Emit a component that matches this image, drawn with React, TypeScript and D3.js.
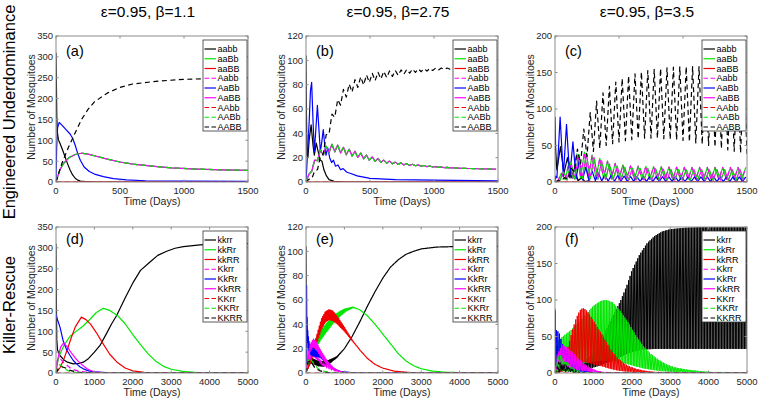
import React from "react";
import * as d3 from "d3";

type Pt = [number, number];

// ---------- text / ticks ----------
const colTitles = ["ε=0.95, β=1.1", "ε=0.95, β=2.75", "ε=0.95, β=3.5"];
const rowTitles = ["Engineered Underdominance", "Killer-Rescue"];
const panelLabels = ["(a)", "(b)", "(c)", "(d)", "(e)", "(f)"];
const yTitle = "Number of Mosquitoes";
const xTitle = "Time (Days)";
const topNames = ["aabb", "aaBb", "aaBB", "Aabb", "AaBb", "AaBB", "AAbb", "AABb", "AABB"];
const botNames = ["kkrr", "kkRr", "kkRR", "Kkrr", "KkRr", "KkRR", "KKrr", "KKRr", "KKRR"];
const yTicks350 = [0, 50, 100, 150, 200, 250, 300, 350];
const yTicks120 = [0, 20, 40, 60, 80, 100, 120];
const yTicks200 = [0, 50, 100, 150, 200];
const xTicks1500 = [0, 500, 1000, 1500];
const xTicks5000 = [0, 1000, 2000, 3000, 4000, 5000];

// ---------- panel (a) ----------
const a_aabb: Pt[] = [[0,310],[3,240],[6,160],[10,120],[20,100],[31,93],[50,78],[70,61],[90,44],[110,29],[130,17],[150,9],[170,4.5],[190,2],[230,0.7],[300,0],[1500,0]];
const a_mid: Pt[] = [[0,0],[10,10],[30,29],[60,45],[100,58],[150,66],[200,69],[250,67],[300,63],[400,55],[500,48],[600,43],[750,38],[900,34],[1100,31],[1300,29],[1500,28]];
const a_AaBb: Pt[] = [[0,0],[5,80],[12,130],[25,143],[50,135],[80,125],[110,115],[130,105],[150,88],[170,68],[190,52],[220,36],[260,25],[300,19],[370,13],[450,8],[550,5],[700,3],[1000,2],[1500,1.5]];
const a_AABB: Pt[] = [[0,0],[25,25],[50,48],[100,85],[150,118],[200,150],[250,174],[300,192],[400,213],[500,227],[600,235],[800,242],[1000,246],[1200,248],[1500,250]];
const zero1500: Pt[] = [[0,0],[1500,0]];
const zero5000: Pt[] = [[0,0],[5000,0]];

// ---------- panel (b) ----------
const b_aabb: Pt[] = [[0,104],[3,60],[8,22],[15,20],[25,35],[40,47],[55,30],[65,22],[80,32],[95,25],[110,18],[125,17],[140,10],[160,5],[180,2],[220,0.5],[300,0],[1500,0]];
const b_AaBb: Pt[] = [[0,0],[10,20],[25,50],[35,75],[44,82],[55,50],[65,25],[75,40],[89,63],[100,45],[112,25],[122,32],[135,43],[145,32],[156,22],[170,28],[185,20],[200,16],[215,18],[230,13],[250,14],[270,10],[290,11],[320,8],[350,7],[400,5],[500,3],[700,2],[1000,1.5],[1500,1]];
const b_mid: Pt[] = [[0,0],[50,12],[100,22.5],[150,26],[200,28],[250,27.5],[300,25.5],[400,22.5],[500,19.5],[600,17],[700,15.5],[800,14.3],[1000,12.5],[1200,11.3],[1500,10.5]];
const b_midAmp: Pt[] = [[0,0],[50,2],[100,3],[200,3],[300,2.7],[400,2.2],[500,1.7],[600,1.2],[700,0.8],[900,0.4],[1100,0.15],[1300,0],[1500,0]];
const b_AABB: Pt[] = [[0,0],[50,4],[100,14],[150,32],[200,51],[250,64],[300,73],[400,81.5],[500,85.5],[600,88],[800,91],[1000,92.7],[1200,93.5],[1500,94]];
const b_AABBAmp: Pt[] = [[0,0],[100,2],[150,4],[300,4.5],[500,3.5],[700,2.2],[900,1.2],[1100,0.6],[1300,0.3],[1500,0.2]];

// ---------- panel (c) ----------
const c_aabbPre: Pt[] = [[0,89],[5,45],[12,22]];
const c_aabbHi: Pt[] = [[0,20],[45,50],[95,34],[145,20],[195,7],[245,2],[300,0.5],[400,0],[1500,0]];
const c_aabbLo: Pt[] = [[0,18],[70,12],[120,6],[170,2],[220,0.5],[300,0],[1500,0]];
const c_blueHi: Pt[] = [[0,10],[40,89],[90,79],[140,55],[190,32],[240,20],[300,14],[400,10],[600,7.5],[1000,7],[1500,7]];
const c_blueLo: Pt[] = [[0,5],[65,8],[115,6],[200,3],[400,1],[1500,0.5]];
const c_bluePre: Pt[] = [[0,0],[5,8]];
const c_gHi: Pt[] = [[0,0],[50,12],[100,25],[150,36],[200,42],[250,40],[300,36],[400,29],[500,24],[600,22],[800,21],[1000,20],[1500,20]];
const c_gLo: Pt[] = [[0,0],[100,4],[200,6],[300,5],[500,4],[800,3.5],[1500,3.5]];
const c_mHi: Pt[] = [[0,0],[50,10],[100,22],[150,33],[200,40],[250,39],[300,34],[400,26],[500,21],[600,19],[800,18],[1000,17],[1500,17]];
const c_mLo: Pt[] = [[0,0],[100,3],[200,5],[300,4],[500,3],[800,2.5],[1500,2.5]];
const c_AABBHi: Pt[] = [[0,0],[100,8],[150,30],[200,60],[250,85],[300,105],[400,128],[500,140],[600,147],[700,152],[800,155],[900,157],[1000,158],[1200,158],[1400,158],[1500,152]];
const c_AABBLo: Pt[] = [[0,0],[100,4],[150,14],[200,25],[250,35],[300,42],[400,50],[500,55],[600,58],[700,60],[800,60],[1000,57],[1200,50],[1400,42],[1500,38]];

// ---------- panel (d) ----------
const d_kkrr: Pt[] = [[0,310],[8,180],[20,80],[40,55],[100,42],[200,32],[300,26],[450,22],[600,23],[712,26],[850,35],[1000,50],[1146,66],[1300,92],[1450,118],[1580,138],[1800,180],[2014,218],[2200,246],[2448,266],[2650,282],[2882,292],[3100,299],[3316,303],[3750,307],[4200,309],[5000,310]];
const d_kkRr: Pt[] = [[0,0],[30,22],[100,45],[200,65],[365,88],[500,98],[700,112],[900,130],[1050,145],[1233,155],[1400,150],[1600,138],[1800,118],[2000,92],[2200,68],[2400,46],[2600,28],[2800,16],[3000,9],[3300,4],[3700,1],[4200,0.3],[5000,0]];
const d_kkRR: Pt[] = [[0,0],[100,12],[200,32],[300,58],[400,85],[500,110],[660,134],[780,128],[900,117],[1050,97],[1200,74],[1400,45],[1600,25],[1800,12],[2000,5],[2300,1.5],[2700,0.3],[3000,0],[5000,0]];
const d_Kkrr: Pt[] = [[0,0],[30,30],[100,35],[200,25],[400,10],[600,4],[900,1],[1500,0],[5000,0]];
const d_KkRr: Pt[] = [[0,142],[30,130],[104,110],[190,76],[280,55],[365,42],[450,30],[538,22],[620,15],[712,10],[850,5],[1000,2.5],[1300,0.8],[2000,0],[5000,0]];
const d_KkRR: Pt[] = [[0,0],[50,35],[120,62],[200,72],[300,62],[400,48],[500,36],[600,26],[700,18],[800,11],[900,6],[1000,3],[1200,1],[1600,0],[5000,0]];
const d_KKRr: Pt[] = [[0,0],[40,15],[100,20],[200,12],[300,6],[400,2.5],[600,0.5],[800,0],[5000,0]];
const d_KKRR: Pt[] = [[0,0],[60,10],[150,15],[250,12],[350,7],[500,3],[700,1],[1000,0],[5000,0]];

// ---------- panel (e) ----------
const e_kkrrPre: Pt[] = [[0,104],[10,40],[25,12]];
const e_kkrr: Pt[] = [[0,10],[60,9],[150,10],[300,8],[450,7.5],[600,9],[800,13],[1000,20],[1200,30],[1400,42],[1600,55],[1800,67],[2000,78],[2200,87],[2400,93],[2600,97.5],[2800,100],[3000,102],[3400,103.5],[4000,104],[5000,104]];
const e_kkrrAmp: Pt[] = [[0,2],[500,2],[800,0.5],[1000,0],[5000,0]];
const e_kkRr: Pt[] = [[0,0],[100,15],[200,22],[365,30],[500,36],[712,44],[900,49],[1050,52],[1230,54],[1400,52],[1600,47],[1800,40],[2000,32],[2200,24],[2400,16],[2600,10],[2800,6],[3000,3.5],[3300,1.5],[3700,0.5],[5000,0]];
const e_kkRrAmp: Pt[] = [[0,0],[100,3],[300,4],[600,3.5],[900,2],[1100,0.8],[1300,0],[5000,0]];
const e_kkRR: Pt[] = [[0,0],[100,8],[200,18],[300,30],[400,40],[500,46],[600,48],[700,47],[800,44],[1000,36],[1200,27],[1400,19],[1600,12],[1800,7],[2000,4],[2300,1.5],[2700,0.4],[3000,0],[5000,0]];
const e_kkRRAmp: Pt[] = [[0,0],[200,3],[400,4.5],[700,4],[900,2.5],[1100,1],[1300,0],[5000,0]];
const e_Kkrr: Pt[] = [[0,0],[50,10],[150,15],[300,11],[500,6],[700,2.5],[900,1],[1200,0],[5000,0]];
const e_KkrrAmp: Pt[] = [[0,0],[100,2],[400,1.5],[700,0.5],[900,0],[5000,0]];
const e_KkRrPre: Pt[] = [[0,0],[8,40],[15,72],[22,30],[30,46],[38,25],[46,35],[55,20],[63,30],[72,18],[80,26],[90,17]];
const e_KkRr: Pt[] = [[0,20],[100,20],[150,18],[200,17],[365,14.5],[538,9],[712,3.6],[900,1.2],[1200,0.3],[1500,0],[5000,0]];
const e_KkRrAmp: Pt[] = [[0,5],[200,3],[400,1.5],[600,0.5],[800,0],[5000,0]];
const e_KkRR: Pt[] = [[0,0],[50,12],[100,20],[190,25],[280,22],[365,17],[450,13],[538,9],[620,6],[712,3.6],[850,1.5],[1000,0.5],[1300,0],[5000,0]];
const e_KkRRAmp: Pt[] = [[0,0],[100,3],[300,3],[500,2],[700,1],[900,0],[5000,0]];
const e_KKRr: Pt[] = [[0,0],[40,8],[100,12],[200,8],[300,4],[400,2],[600,0.5],[800,0],[5000,0]];
const e_KKRR: Pt[] = [[0,0],[50,9],[120,10],[234,4],[350,2],[500,0.5],[700,0],[5000,0]];

// ---------- panel (f) ----------
const f_kkrrPre: Pt[] = [[0,88],[8,50]];
const f_kkrrHi: Pt[] = [[0,45],[100,22],[300,15],[500,12],[700,15],[900,22],[1100,35],[1300,55],[1500,78],[1700,98],[1870,120],[2000,140],[2200,162],[2400,178],[2600,188],[2800,194],[3000,197],[3400,199],[3800,200],[5000,200]];
const f_kkrrLo: Pt[] = [[0,10],[100,5],[300,3],[500,3],[700,4],[900,6],[1100,9],[1300,13],[1500,17],[1700,22],[1900,27],[2100,30],[2300,32],[2600,33],[5000,33]];
const f_kkRrHi: Pt[] = [[0,0],[50,35],[100,45],[200,50],[400,58],[600,68],[800,80],[1000,92],[1200,99],[1330,100],[1500,97],[1700,85],[1900,70],[2100,52],[2300,37],[2500,26],[2700,18],[2900,12],[3100,8],[3400,5],[3800,2.5],[4200,1],[5000,0.3]];
const f_kkRrLo: Pt[] = [[0,0],[100,5],[200,7.5],[400,10],[600,12],[800,14],[1000,16],[1200,17],[1330,17],[1500,16.5],[1700,14.5],[1900,12],[2100,9],[2300,6.3],[2500,4.4],[2700,3],[2900,2],[3100,1.4],[3400,0.9],[3800,0.4],[4200,0.2],[5000,0]];
const f_kkRRHi: Pt[] = [[0,0],[150,5],[250,18],[350,38],[450,58],[550,75],[650,86],[720,89],[800,87],[900,80],[1000,72],[1100,63],[1233,52],[1350,41],[1493,29],[1600,22],[1753,15],[1900,10],[2100,6],[2300,3.5],[2600,1.5],[3000,0.5],[3500,0],[5000,0]];
const f_kkRRLo: Pt[] = [[0,0],[150,1],[250,3],[350,6.5],[450,10],[550,12.5],[650,14.5],[720,15],[800,14.5],[900,13.5],[1000,12],[1100,10.5],[1233,9],[1350,7],[1493,5],[1600,3.7],[1753,2.5],[1900,1.7],[2100,1],[2300,0.6],[2600,0.3],[3000,0.1],[3500,0],[5000,0]];
const f_KkrrHi: Pt[] = [[0,0],[60,20],[190,30],[400,22],[600,14],[800,8],[1000,4],[1300,1],[1600,0],[5000,0]];
const f_KkrrLo: Pt[] = [[0,0],[60,4],[190,6],[400,4.5],[600,3],[800,1.6],[1000,0.8],[1300,0.2],[1600,0],[5000,0]];
const f_KkRrPre: Pt[] = [[0,0],[5,85],[12,60]];
const f_KkRrHi: Pt[] = [[0,60],[104,56],[190,40],[365,25],[538,15],[712,8],[850,4],[972,2],[1200,0.5],[1500,0],[5000,0]];
const f_KkRrLo: Pt[] = [[0,10],[200,6],[400,4],[600,2],[800,1],[1000,0.3],[1200,0],[5000,0]];
const f_KkRRHi: Pt[] = [[0,0],[60,25],[190,40],[300,35],[451,29],[600,20],[712,15],[850,9],[972,6],[1100,3],[1300,1],[1600,0],[5000,0]];
const f_KkRRLo: Pt[] = [[0,0],[100,6],[200,8],[400,6],[600,4],[800,2.5],[1000,1],[1300,0.3],[1600,0],[5000,0]];
const f_KKRrHi: Pt[] = [[0,0],[50,20],[150,25],[300,15],[500,6],[700,2],[1000,0],[5000,0]];
const f_KKRrLo: Pt[] = [[0,0],[150,3],[300,2],[500,1],[700,0],[5000,0]];
const f_KKRRHi: Pt[] = [[0,0],[100,15],[250,12],[400,6],[600,2],[900,0],[5000,0]];
const f_KKRRLo: Pt[] = [[0,0],[250,2],[400,1],[600,0],[5000,0]];

// ---------- series specs ----------
type Spec = { pts?: Pt[]; pre?: Pt[]; hi?: Pt[]; lo?: Pt[]; base?: Pt[]; amp?: Pt[]; period?: number; start?: number };

const bMid: Spec = { base: b_mid, amp: b_midAmp, period: 45 };
const cG: Spec = { hi: c_gHi, lo: c_gLo, period: 60, start: 20 };
const cM: Spec = { hi: c_mHi, lo: c_mLo, period: 60, start: 35 };
const F_PERIOD = 40;

const panelSeries: Spec[][] = [
  [{ pts: a_aabb }, { pts: a_mid }, { pts: zero1500 }, { pts: a_mid }, { pts: a_AaBb }, { pts: a_mid }, { pts: zero1500 }, { pts: a_mid }, { pts: a_AABB }],
  [{ pts: b_aabb }, bMid, { pts: zero1500 }, bMid, { pts: b_AaBb }, bMid, { pts: zero1500 }, bMid, { base: b_AABB, amp: b_AABBAmp, period: 45 }],
  [
    { pre: c_aabbPre, hi: c_aabbHi, lo: c_aabbLo, period: 55, start: 15 },
    cG, { pts: zero1500 }, cG,
    { pre: c_bluePre, hi: c_blueHi, lo: c_blueLo, period: 50, start: 15 },
    cM, { pts: zero1500 }, cM,
    { hi: c_AABBHi, lo: c_AABBLo, period: 50, start: 0 },
  ],
  [{ pts: d_kkrr }, { pts: d_kkRr }, { pts: d_kkRR }, { pts: d_Kkrr }, { pts: d_KkRr }, { pts: d_KkRR }, { pts: zero5000 }, { pts: d_KKRr }, { pts: d_KKRR }],
  [
    { pre: e_kkrrPre, base: e_kkrr, amp: e_kkrrAmp, period: 30, start: 30 },
    { base: e_kkRr, amp: e_kkRrAmp, period: 30 },
    { base: e_kkRR, amp: e_kkRRAmp, period: 30 },
    { base: e_Kkrr, amp: e_KkrrAmp, period: 30 },
    { pre: e_KkRrPre, base: e_KkRr, amp: e_KkRrAmp, period: 30, start: 95 },
    { base: e_KkRR, amp: e_KkRRAmp, period: 30 },
    { pts: zero5000 }, { pts: e_KKRr }, { pts: e_KKRR },
  ],
  [
    { pre: f_kkrrPre, hi: f_kkrrHi, lo: f_kkrrLo, period: F_PERIOD, start: 15 },
    { hi: f_kkRrHi, lo: f_kkRrLo, period: F_PERIOD },
    { hi: f_kkRRHi, lo: f_kkRRLo, period: F_PERIOD },
    { hi: f_KkrrHi, lo: f_KkrrLo, period: F_PERIOD },
    { pre: f_KkRrPre, hi: f_KkRrHi, lo: f_KkRrLo, period: F_PERIOD, start: 15 },
    { hi: f_KkRRHi, lo: f_KkRRLo, period: F_PERIOD },
    { pts: zero5000 },
    { hi: f_KKRrHi, lo: f_KKRrLo, period: F_PERIOD },
    { hi: f_KKRRHi, lo: f_KKRRLo, period: F_PERIOD },
  ],
];

const STYLE = [
  { c: "#000000", d: false }, { c: "#00e600", d: false }, { c: "#f00000", d: false },
  { c: "#ff00ff", d: true }, { c: "#0000ff", d: false }, { c: "#ff00ff", d: false },
  { c: "#f00000", d: true }, { c: "#00e600", d: true }, { c: "#000000", d: true },
];

function interp(pts: Pt[], t: number): number {
  if (t <= pts[0][0]) return pts[0][1];
  for (let i = 1; i < pts.length; i++) {
    if (t <= pts[i][0]) {
      const [t0, v0] = pts[i - 1], [t1, v1] = pts[i];
      return v0 + ((v1 - v0) * (t - t0)) / (t1 - t0);
    }
  }
  return pts[pts.length - 1][1];
}

function build(s: Spec, xmax: number): Pt[] {
  if (!s.period) return s.pts as Pt[];
  const start = s.start ?? 0;
  const out: Pt[] = [];
  if (s.pre) for (const p of s.pre) if (p[0] < start) out.push(p);
  let k = 0;
  for (let t = start; t <= xmax + 1e-6; t += s.period / 2, k++) {
    let hi: number, lo: number;
    if (s.hi && s.lo) { hi = interp(s.hi, t); lo = interp(s.lo, t); }
    else { const b = interp(s.base!, t), a = interp(s.amp!, t); hi = b + a; lo = Math.max(0, b - a); }
    out.push([t, k % 2 === 0 ? lo : hi]);
  }
  return out;
}

const COLS = [56, 306, 555];
const ROWS = [36, 227];
const PW = 192, PH = 146;
const FONT = "'Liberation Sans', Arial, Helvetica, sans-serif";
const AX = "#262626";

const panelCfg = [
  { col: 0, row: 0, xmax: 1500, ymax: 350, yt: yTicks350, xt: xTicks1500 },
  { col: 1, row: 0, xmax: 1500, ymax: 120, yt: yTicks120, xt: xTicks1500 },
  { col: 2, row: 0, xmax: 1500, ymax: 200, yt: yTicks200, xt: xTicks1500 },
  { col: 0, row: 1, xmax: 5000, ymax: 350, yt: yTicks350, xt: xTicks5000 },
  { col: 1, row: 1, xmax: 5000, ymax: 120, yt: yTicks120, xt: xTicks5000 },
  { col: 2, row: 1, xmax: 5000, ymax: 200, yt: yTicks200, xt: xTicks5000 },
];

function Panel({ i }: { i: number }) {
  const cfg = panelCfg[i];
  const L = COLS[cfg.col], T = ROWS[cfg.row];
  const x = d3.scaleLinear().domain([0, cfg.xmax]).range([L, L + PW]);
  const y = d3.scaleLinear().domain([0, cfg.ymax]).range([T + PH, T]);
  const line = d3.line<Pt>().x((d) => x(d[0])).y((d) => y(d[1]));
  const names = cfg.row === 0 ? topNames : botNames;
  const clipId = `clip${i}`;
  const lgL = L + PW - 45, lgT = T + 4, lgW = 44, lgH = 91;
  const lw = i === 5 ? 1.0 : 1.2;
  return (
    <g>
      <defs>
        <clipPath id={clipId}><rect x={L} y={T} width={PW} height={PH} /></clipPath>
      </defs>
      <rect x={L} y={T} width={PW} height={PH} fill="#fff" />
      <g clipPath={`url(#${clipId})`}>
        {panelSeries[i].map((s, j) => (
          <path key={j} d={line(build(s, cfg.xmax)) || ""} fill="none" stroke={STYLE[j].c}
            strokeWidth={lw} strokeDasharray={STYLE[j].d ? "5,3.5" : undefined} strokeLinejoin="round" />
        ))}
      </g>
      <rect x={L} y={T} width={PW} height={PH} fill="none" stroke="#8c8c8c" strokeWidth={1} />
      {cfg.xt.map((v) => (
        <g key={"x" + v}>
          <line x1={x(v)} x2={x(v)} y1={T + PH} y2={T + PH - 2.5} stroke="#8c8c8c" />
          <line x1={x(v)} x2={x(v)} y1={T} y2={T + 2.5} stroke="#8c8c8c" />
          <text x={x(v)} y={T + PH + 12} textAnchor="middle" fontSize={9.5} fill={AX} fontFamily={FONT}>{v}</text>
        </g>
      ))}
      {cfg.yt.map((v) => (
        <g key={"y" + v}>
          <line x1={L} x2={L + 2.5} y1={y(v)} y2={y(v)} stroke="#8c8c8c" />
          <line x1={L + PW} x2={L + PW - 2.5} y1={y(v)} y2={y(v)} stroke="#8c8c8c" />
          <text x={L - 3} y={y(v) + 3.4} textAnchor="end" fontSize={9.5} fill={AX} fontFamily={FONT}>{v}</text>
        </g>
      ))}
      <text x={L + 10} y={T + (cfg.row === 0 ? 20 : 17)} fontSize={14.5} fill="#000" fontFamily={FONT}>{panelLabels[i]}</text>
      <text x={L + PW / 2} y={T + PH + 23} textAnchor="middle" fontSize={10.5} fill={AX} fontFamily={FONT}>{xTitle}</text>
      <text transform={`translate(${L - 21},${T + PH / 2 - 2}) rotate(-90)`} textAnchor="middle" fontSize={10.5} fill={AX} fontFamily={FONT}>{yTitle}</text>
      <rect x={lgL} y={lgT} width={lgW} height={lgH} fill="#fff" stroke="#333" strokeWidth={0.8} />
      {names.map((n, j) => {
        const cy = lgT + 9 + j * 9.75;
        return (
          <g key={n}>
            <line x1={lgL + 1.5} x2={lgL + 13} y1={cy} y2={cy} stroke={STYLE[j].c} strokeWidth={1.2}
              strokeDasharray={STYLE[j].d ? "4.5,2.5" : undefined} />
            <text x={lgL + 14.5} y={cy + 3.2} fontSize={9} fill="#000" fontFamily={FONT}>{n}</text>
          </g>
        );
      })}
    </g>
  );
}

export default function App() {
  return (
    <svg width={760} height={401} style={{ position: "absolute", left: 0, top: 0, background: "#fff" }}>
      <rect x={0} y={0} width={760} height={401} fill="#fff" />
      {colTitles.map((t, c) => (
        <text key={t} x={COLS[c] + PW / 2 - 4} y={17} textAnchor="middle" fontSize={15.5} fill="#000" fontFamily={FONT}>{t}</text>
      ))}
      {rowTitles.map((t, r) => (
        <text key={t} transform={`translate(15,${r === 0 ? 112 : 305}) rotate(-90)`} textAnchor="middle" fontSize={16.5} fill="#000" fontFamily={FONT}>{t}</text>
      ))}
      {panelCfg.map((_, i) => <Panel key={i} i={i} />)}
    </svg>
  );
}
